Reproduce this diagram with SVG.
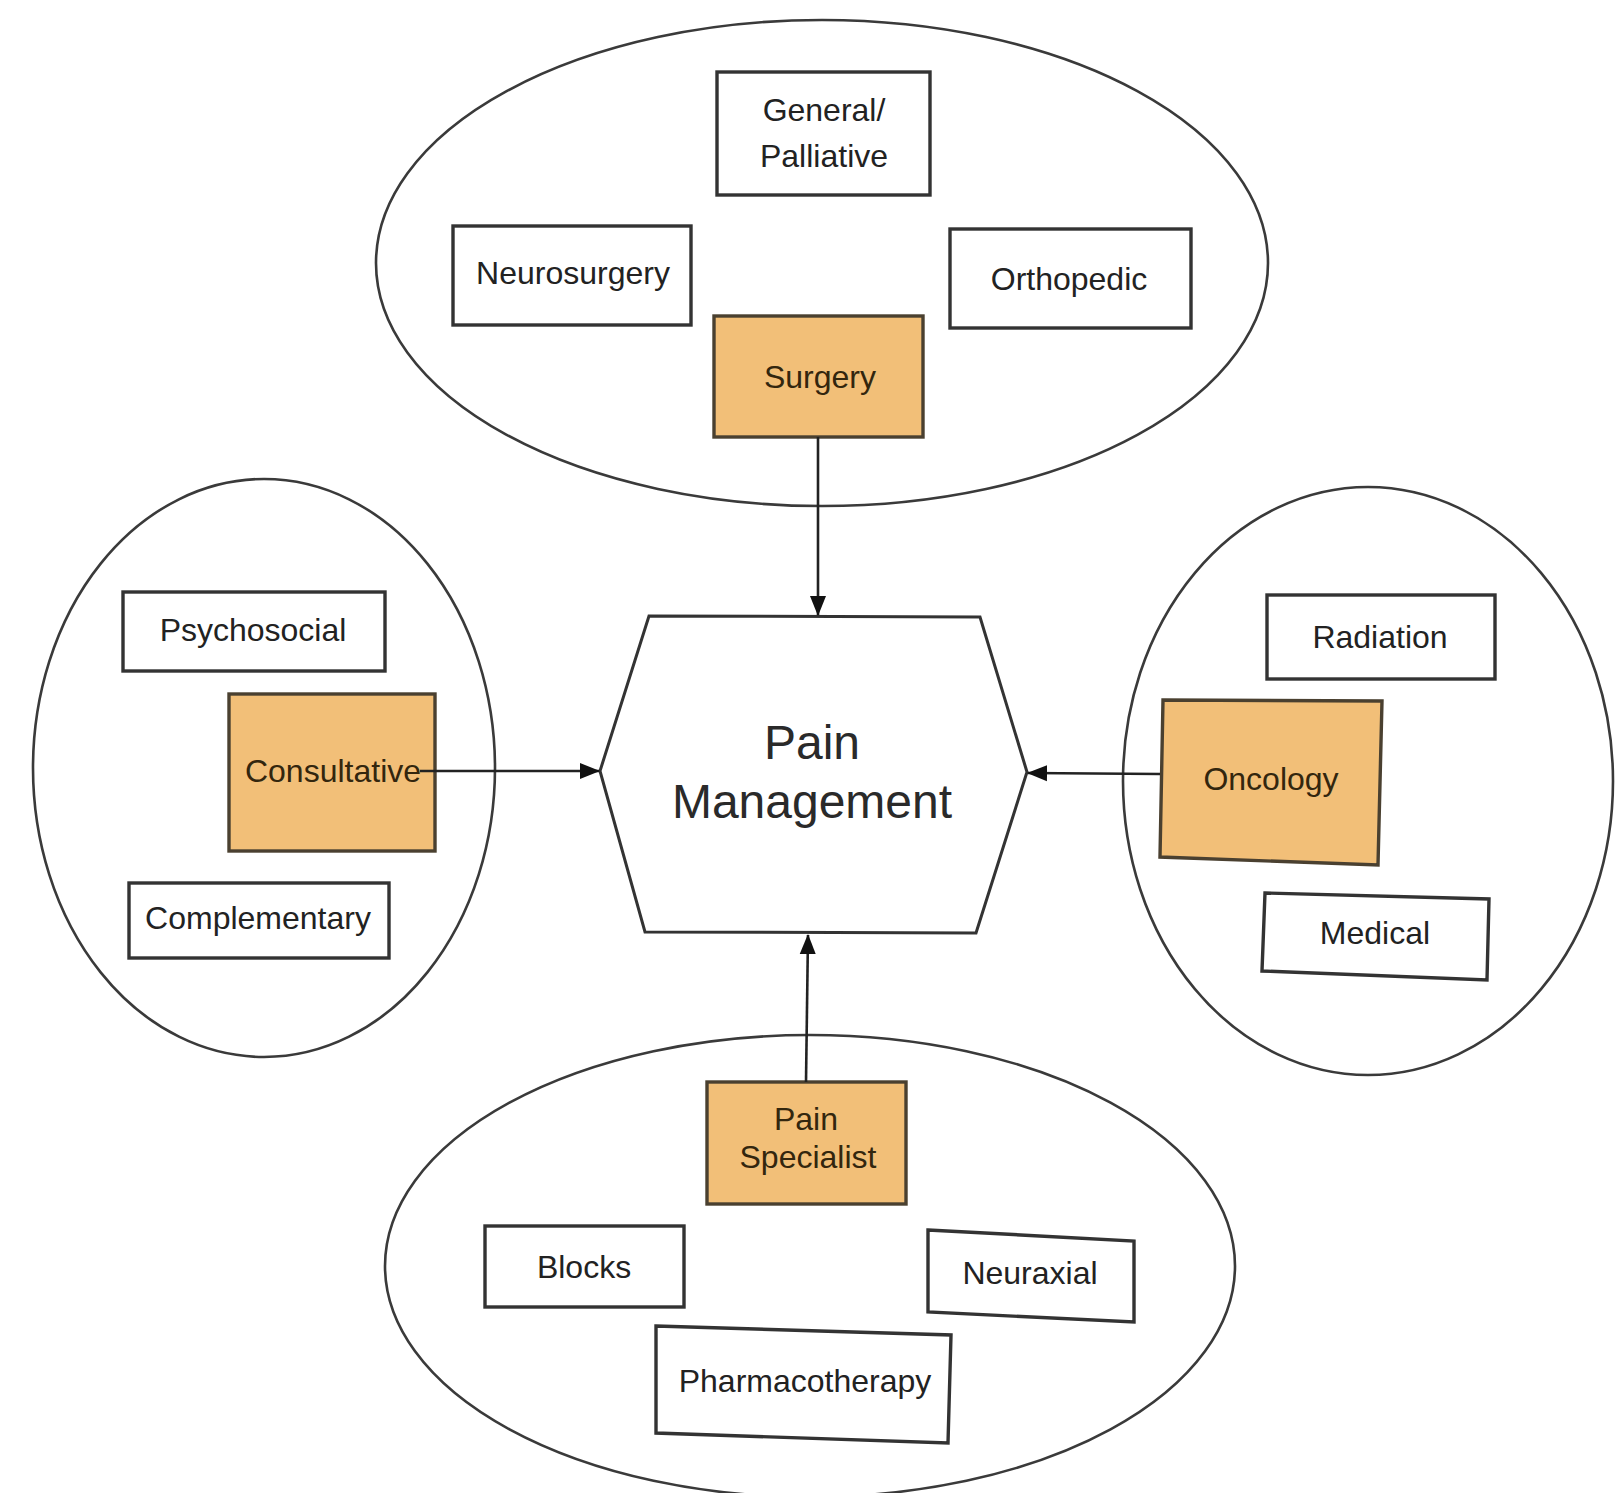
<svg xmlns="http://www.w3.org/2000/svg" width="1623" height="1493" viewBox="0 0 1623 1493">
<style>
.bg{fill:#ffffff}
.ell{fill:none;stroke:#3a3a3a;stroke-width:2.6}
.box{fill:#ffffff;stroke:#333333;stroke-width:3.4}
.obox{fill:#F2BF78;stroke:#4a4030;stroke-width:3.4}
.t{font-family:"Liberation Sans",Arial,sans-serif;font-size:32px;fill:#222222;text-anchor:middle}
.ot{font-family:"Liberation Sans",Arial,sans-serif;font-size:32px;fill:#33260e;text-anchor:middle}
.big{font-family:"Liberation Sans",Arial,sans-serif;font-size:48px;fill:#2a2a2a;text-anchor:middle}
.hex{fill:#ffffff;stroke:#333333;stroke-width:3}
.con{fill:none;stroke:#222222;stroke-width:2.6}
</style>
<defs>
<marker id="arr" markerUnits="userSpaceOnUse" markerWidth="20" markerHeight="18" viewBox="0 0 20 18" refX="19" refY="9" orient="auto">
<path d="M0,1 L20,9 L0,17 Z" fill="#111111"/>
</marker>
</defs>
<rect class="bg" x="0" y="0" width="1623" height="1493"/>

<g id="surgery-cluster">
<ellipse class="ell" cx="822" cy="263" rx="446" ry="243"/>
</g>
<g id="consultative-cluster">
<ellipse class="ell" cx="264" cy="768" rx="231" ry="289"/>
</g>
<g id="oncology-cluster">
<ellipse class="ell" cx="1368" cy="781" rx="245" ry="294"/>
</g>
<g id="painspecialist-cluster">
<ellipse class="ell" cx="810" cy="1266" rx="425" ry="231"/>
</g>

<g id="general-palliative">
<rect class="box" x="717" y="72" width="213" height="123"/>
<text class="t" x="824" y="121">General/</text>
<text class="t" x="824" y="167">Palliative</text>
</g>
<g id="neurosurgery">
<rect class="box" x="453" y="226" width="238" height="99"/>
<text class="t" x="573" y="284">Neurosurgery</text>
</g>
<g id="orthopedic">
<rect class="box" x="950" y="229" width="241" height="99"/>
<text class="t" x="1069" y="290">Orthopedic</text>
</g>
<g id="surgery">
<rect class="obox" x="714" y="316" width="209" height="121"/>
<text class="ot" x="820" y="388">Surgery</text>
</g>

<g id="psychosocial">
<rect class="box" x="123" y="592" width="262" height="79"/>
<text class="t" x="253" y="641">Psychosocial</text>
</g>
<g id="consultative">
<rect class="obox" x="229" y="694" width="206" height="157"/>
<text class="ot" x="333" y="782">Consultative</text>
</g>
<g id="complementary">
<rect class="box" x="129" y="883" width="260" height="75"/>
<text class="t" x="258" y="929">Complementary</text>
</g>

<g id="radiation">
<rect class="box" x="1267" y="595" width="228" height="84"/>
<text class="t" x="1380" y="648">Radiation</text>
</g>
<g id="oncology">
<polygon class="obox" points="1163,700 1382,701 1378,865 1160,857"/>
<text class="ot" x="1271" y="790">Oncology</text>
</g>
<g id="medical">
<polygon class="box" points="1265,893 1489,899 1487,980 1262,971"/>
<text class="t" x="1375" y="944">Medical</text>
</g>

<g id="pain-specialist">
<rect class="obox" x="707" y="1082" width="199" height="122"/>
<text class="ot" x="806" y="1130">Pain</text>
<text class="ot" x="808" y="1168">Specialist</text>
</g>
<g id="blocks">
<rect class="box" x="485" y="1226" width="199" height="81"/>
<text class="t" x="584" y="1278">Blocks</text>
</g>
<g id="neuraxial">
<polygon class="box" points="928,1230 1134,1241 1134,1322 928,1312"/>
<text class="t" x="1030" y="1284">Neuraxial</text>
</g>
<g id="pharmacotherapy">
<polygon class="box" points="656,1326 951,1335 948,1443 656,1433"/>
<text class="t" x="805" y="1392">Pharmacotherapy</text>
</g>

<g id="pain-management">
<polygon class="hex" points="649,616 980,617 1027,772 976,933 645,932 600,771"/>
<text class="big" x="812" y="759">Pain</text>
<text class="big" x="812" y="818">Management</text>
</g>

<g id="connectors">
<line class="con" x1="818" y1="437" x2="818" y2="615" marker-end="url(#arr)"/>
<line class="con" x1="420" y1="771" x2="599" y2="771" marker-end="url(#arr)"/>
<line class="con" x1="1160" y1="774" x2="1028" y2="773" marker-end="url(#arr)"/>
<line class="con" x1="806" y1="1082" x2="808" y2="935" marker-end="url(#arr)"/>
</g>
</svg>
